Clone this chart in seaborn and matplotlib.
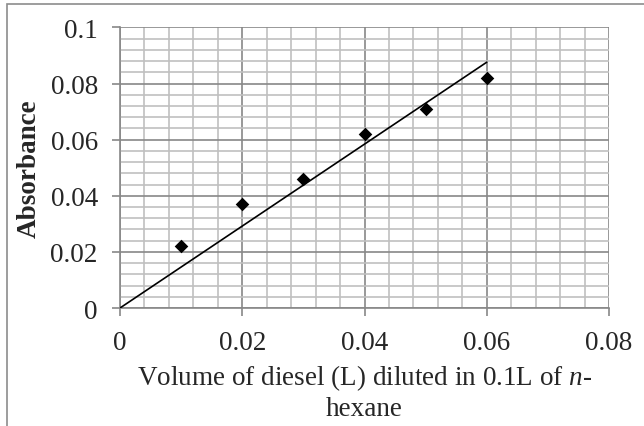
import numpy as np
import pandas as pd
import matplotlib
matplotlib.use("Agg")
import matplotlib.pyplot as plt
import seaborn as sns
from matplotlib.ticker import MultipleLocator, FuncFormatter
from matplotlib.patches import Rectangle

# Data
volume = [0.01, 0.02, 0.03, 0.04, 0.05, 0.06]
absorbance = [0.022, 0.037, 0.046, 0.062, 0.071, 0.082]
x_label = "Volume of diesel (L) diluted in 0.1L of $\\it{n}$-\nhexane"
y_label = "Absorbance"

sns.set_style("white")
plt.rcParams['font.family'] = ['Liberation Serif', 'DejaVu Serif']
plt.rcParams['mathtext.fontset'] = 'custom'
plt.rcParams['mathtext.it'] = 'Liberation Serif:italic'
plt.rcParams['mathtext.rm'] = 'Liberation Serif'

FS = 19.5

fig = plt.figure(figsize=(6.44, 4.27), dpi=100)
ax = fig.add_axes([0.1863, 0.2763, 0.9457 - 0.1863, 0.9333 - 0.2763])

# Figure border
fig.patches.append(Rectangle((7 / 644, -0.1), 1.2, 1 - 5 / 427 + 0.1,
                             transform=fig.transFigure, fill=False,
                             edgecolor="#8c8c8c", linewidth=1.2))

df = pd.DataFrame({"x": volume, "y": absorbance})
xs = np.array(volume)
ys = np.array(absorbance)
slope = np.sum(xs * ys) / np.sum(xs * xs)
trend = pd.DataFrame({"x": [0.0, xs.max()], "y": [0.0, slope * xs.max()]})

sns.lineplot(data=trend, x="x", y="y", ax=ax, color="black", linewidth=1.2, zorder=3)
sns.scatterplot(data=df, x="x", y="y", ax=ax, marker="D", s=48, color="black",
                edgecolor="black", linewidth=0, zorder=4)

ax.set_xlim(0, 0.08)
ax.set_ylim(0, 0.1)
ax.xaxis.set_major_locator(MultipleLocator(0.02))
ax.yaxis.set_major_locator(MultipleLocator(0.02))
ax.xaxis.set_minor_locator(MultipleLocator(0.004))
ax.yaxis.set_minor_locator(MultipleLocator(0.004))
fmt = FuncFormatter(lambda v, p: f"{v:g}")
ax.xaxis.set_major_formatter(fmt)
ax.yaxis.set_major_formatter(fmt)

ax.grid(which="minor", color="#c0c0c0", linewidth=1.2, zorder=0)
ax.grid(which="major", color="#888888", linewidth=1.2, zorder=1)
ax.set_axisbelow(True)

for side in ["top", "right"]:
    ax.spines[side].set_visible(False)
for side in ["left", "bottom"]:
    ax.spines[side].set_color("#888888")
    ax.spines[side].set_linewidth(1.2)

ax.tick_params(which="major", direction="out", length=6, width=1.2, color="#888888",
               labelsize=FS, pad=10, left=True, bottom=True)
ax.tick_params(which="minor", length=0)

ax.set_xlabel(x_label, fontsize=FS, labelpad=5, linespacing=1.2)
ax.set_ylabel(y_label, fontsize=FS, fontweight="bold", labelpad=6)

fig.savefig("out.png", dpi=100)
